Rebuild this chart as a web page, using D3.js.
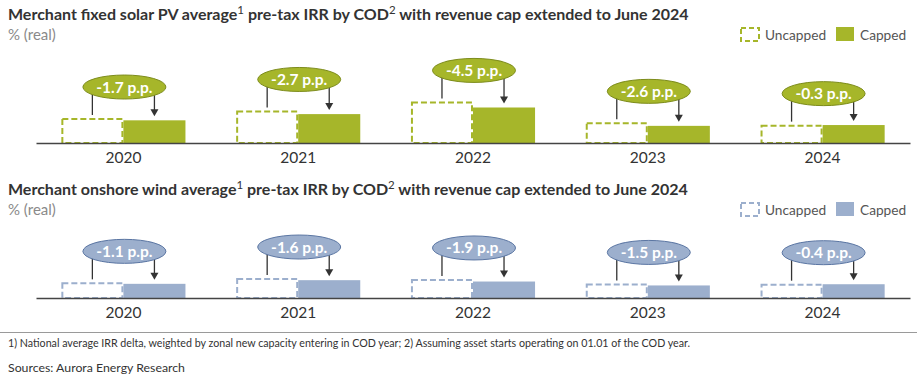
<!DOCTYPE html>
<html><head><meta charset="utf-8">
<script src="https://cdn.jsdelivr.net/npm/d3@7"></script>
<style>
html,body{margin:0;padding:0;background:#fff;}
svg{display:block;font-family:Lato,"Open Sans",sans-serif;}
</style></head>
<body>
<svg id="chart" width="917" height="379"></svg>
<script>
const years = ["2020","2021","2022","2023","2024"];
const seriesNames = ["Uncapped","Capped"];
// IRR values (% real)
const solarUncapped = [18.5, 24.1, 30.8, 15.3, 13.6];
const solarCapped   = [16.8, 21.4, 26.3, 12.7, 13.3];
const solarDelta    = ["-1.7 p.p.","-2.7 p.p.","-4.5 p.p.","-2.6 p.p.","-0.3 p.p."];
const windUncapped  = [11.6, 14.8, 14.1, 10.8, 10.6];
const windCapped    = [10.5, 13.2, 12.2, 9.3, 10.2];
const windDelta     = ["-1.1 p.p.","-1.6 p.p.","-1.9 p.p.","-1.5 p.p.","-0.4 p.p."];
// title parts: [text, isSuperscript]
const solarTitle = [["Merchant fixed solar PV average",0],["1",1],[" pre-tax IRR by COD",0],["2",1],[" with revenue cap extended to June 2024",0]];
const windTitle  = [["Merchant onshore wind average",0],["1",1],[" pre-tax IRR by COD",0],["2",1],[" with revenue cap extended to June 2024",0]];
const unitLabel = "% (real)";
const footnote = "1) National average IRR delta, weighted by zonal new capacity entering in COD year; 2) Assuming asset starts operating on 01.01 of the COD year.";
const sources = "Sources: Aurora Energy Research";

const svg = d3.select("#chart");

const x = d3.scaleBand().domain(years).range([36, 910]).paddingInner(0.29).paddingOuter(0.145);
const xs = d3.scaleBand().domain(seriesNames).range([0, x.bandwidth()]);

function panel(cfg){
  const g = svg.append("g");
  const y = d3.scaleLinear().domain([0, 40]).range([cfg.base, cfg.base - 54]);
  // title
  const t = g.append("text").attr("x", 8).attr("y", cfg.titleY).attr("font-size", 16)
    .attr("font-weight", 700).attr("fill", "#333");
  cfg.title.forEach(([s, sup]) => {
    const ts = t.append("tspan").text(s);
    if (sup) ts.attr("font-size", 11.5).attr("dy", -6).attr("font-weight", 400);
    else ts.attr("dy", 0);
  });
  // reset baseline after superscripts
  t.selectAll("tspan").each(function(d, i, nodes){
    const prev = i > 0 ? nodes[i-1] : null;
    if (prev && d3.select(prev).attr("dy") === "-6" ) d3.select(this).attr("dy", 6);
  });
  g.append("text").attr("x", 8).attr("y", cfg.titleY + 20).attr("font-size", 15)
    .attr("fill", "#8a8a8a").text(unitLabel);
  // legend
  const lg = g.append("g").attr("transform", `translate(0,${cfg.titleY + 8})`);
  lg.append("rect").attr("x", 741).attr("y", 0).attr("width", 18).attr("height", 13)
    .attr("fill", "#fff").attr("stroke", cfg.color).attr("stroke-width", 2).attr("stroke-dasharray", "5,3");
  lg.append("text").attr("x", 765).attr("y", 12).attr("font-size", 13.7).attr("fill", "#555").text("Uncapped");
  lg.append("rect").attr("x", 836).attr("y", -1).attr("width", 18).attr("height", 14).attr("fill", cfg.color);
  lg.append("text").attr("x", 860).attr("y", 12).attr("font-size", 13.7).attr("fill", "#555").text("Capped");

  const data = years.map((yr, i) => ({yr, u: cfg.unc[i], c: cfg.cap[i], d: cfg.delta[i]}));
  const grp = g.selectAll("g.yr").data(data).join("g").attr("class", "yr")
    .attr("transform", d => `translate(${x(d.yr)},0)`);
  grp.append("rect").attr("x", d => xs("Uncapped") + 1).attr("width", xs.bandwidth() - 2)
    .attr("y", d => y(d.u) + 1).attr("height", d => cfg.base - y(d.u) - 1)
    .attr("fill", "#fff").attr("stroke", cfg.color).attr("stroke-width", 2).attr("stroke-dasharray", "6,3");
  grp.append("rect").attr("x", d => xs("Capped")).attr("width", xs.bandwidth())
    .attr("y", d => y(d.c)).attr("height", d => cfg.base - y(d.c)).attr("fill", cfg.color);
  const cx = x.bandwidth() / 2;
  const ucx = xs("Uncapped") + xs.bandwidth() / 2;
  const ccx = xs("Capped") + xs.bandwidth() / 2;
  grp.append("line").attr("x1", ucx).attr("x2", ucx)
    .attr("y1", d => y(d.u) - 31).attr("y2", d => y(d.u) - 3)
    .attr("stroke", "#333").attr("stroke-width", 1.3);
  grp.append("line").attr("x1", ccx).attr("x2", ccx)
    .attr("y1", d => y(d.u) - 31).attr("y2", d => y(d.c) - 10)
    .attr("stroke", "#333").attr("stroke-width", 1.3);
  grp.append("path").attr("d", d => {
    const t = y(d.c) - 4;
    return `M${ccx - 4},${t - 7}L${ccx + 4},${t - 7}L${ccx},${t}Z`;
  }).attr("fill", "#333");
  grp.append("ellipse").attr("cx", cx + 1).attr("cy", d => y(d.u) - 31)
    .attr("rx", 41.5).attr("ry", 12).attr("fill", cfg.color).attr("stroke", cfg.dark).attr("stroke-width", 1);
  grp.append("text").attr("x", cx + 1).attr("y", d => y(d.u) - 31 + 5.5)
    .attr("text-anchor", "middle").attr("font-size", 15.5).attr("font-weight", 700)
    .attr("fill", "#fff").text(d => d.d);
  const axis = d3.axisBottom(x).tickSize(0).tickPadding(9);
  const ag = g.append("g").attr("transform", `translate(0,${cfg.base})`).call(axis);
  ag.select(".domain").attr("stroke", "#444").attr("stroke-width", 1.5);
  ag.selectAll("text").attr("font-size", 15.5).attr("fill", "#333").attr("font-family", "Lato");
}

panel({title: solarTitle, titleY: 20, base: 143, unc: solarUncapped, cap: solarCapped, delta: solarDelta, color: "#a6b62a", dark: "#7d8c1c"});
panel({title: windTitle, titleY: 195, base: 298, unc: windUncapped, cap: windCapped, delta: windDelta, color: "#9cafcd", dark: "#5b76a3"});

svg.append("line").attr("x1", 0).attr("x2", 917).attr("y1", 332.5).attr("y2", 332.5)
  .attr("stroke", "#9a9a9a").attr("stroke-width", 1);
svg.append("text").attr("x", 8).attr("y", 347).attr("font-size", 12).attr("fill", "#333")
  .attr("textLength", 682).attr("lengthAdjust", "spacingAndGlyphs").text(footnote);
svg.append("text").attr("x", 8).attr("y", 372).attr("font-size", 12).attr("fill", "#333")
  .attr("textLength", 177).attr("lengthAdjust", "spacingAndGlyphs").text(sources);
</script>
</body></html>
